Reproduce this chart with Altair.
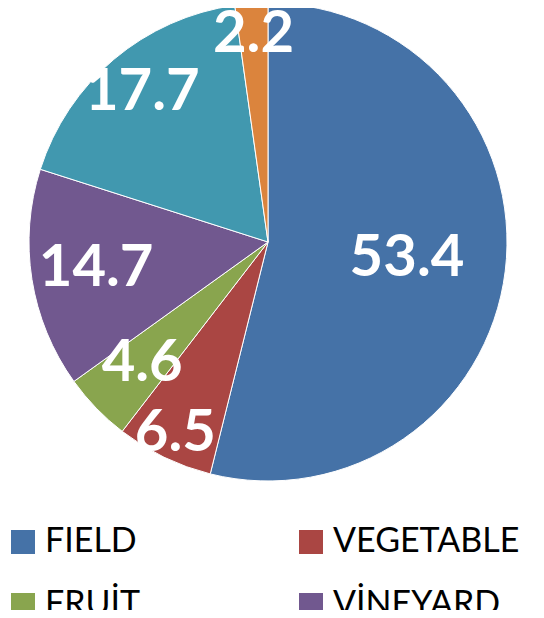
import math
import altair as alt
import pandas as pd

categories = ["FIELD", "VEGETABLE", "FRUİT", "VİNEYARD", "FALLOW", "OTHER"]
values = [53.4, 6.5, 4.6, 14.7, 17.7, 2.2]
colors = ["#4572A7", "#AA4643", "#89A54E", "#71588F", "#4198AF", "#DB843D"]
legend_shown = ["FIELD", "VEGETABLE", "FRUİT", "VİNEYARD"]

df = pd.DataFrame({
    "category": categories,
    "value": values,
    "order": list(range(len(categories))),
    "label": [f"{v:.1f}" for v in values],
})

theta_scale = alt.Scale(domain=[0, 1], range=[0, 2 * math.pi])

base = (
    alt.Chart(df)
    .transform_joinaggregate(total="sum(value)")
    .transform_window(cum="sum(value)", sort=[alt.SortField("order")], frame=[None, 0])
    .transform_calculate(
        start="(datum.cum - datum.value) / datum.total",
        end="datum.cum / datum.total",
        mid="(datum.cum - datum.value / 2) / datum.total",
    )
    .encode(x=alt.value(260), y=alt.value(234))
)

pie = base.mark_arc(radius=239, stroke="white", strokeWidth=1).encode(
    theta=alt.Theta("start:Q", scale=theta_scale),
    theta2="end:Q",
    color=alt.Color(
        "category:N",
        scale=alt.Scale(domain=categories, range=colors),
        sort=categories,
        legend=alt.Legend(
            title=None,
            values=legend_shown,
            orient="none",
            direction="horizontal",
            legendX=-2,
            legendY=517,
            columns=2,
            gridAlign="all",
            columnPadding=62,
            rowPadding=29,
            padding=0,
            symbolType="square",
            symbolSize=576,
            symbolStrokeWidth=0,
            symbolOpacity=1,
            labelFont="Lato",
            labelFontSize=34,
            labelColor="black",
            labelOffset=5,
            labelLimit=400,
        ),
    ),
)

# best-fit style label placement: distance of each slice's label from the centre
text = base.mark_text(
    font="Lato", fontWeight="bold", fontSize=58, color="white",
    align="center", baseline="middle",
).encode(
    theta=alt.Theta("mid:Q", scale=theta_scale),
    text="label:N",
    radius=alt.Radius(
        "order:Q",
        scale=alt.Scale(domain=[0, 1, 2, 3, 4, 5],
                        range=[140, 213, 175, 174, 195, 208], zero=False),
    ),
)

chart = (pie + text).properties(
    width=528, height=602, autosize="none", padding=0
).configure_view(stroke=None)

chart.save("out.html", embed_options={"renderer": "svg", "actions": False})
